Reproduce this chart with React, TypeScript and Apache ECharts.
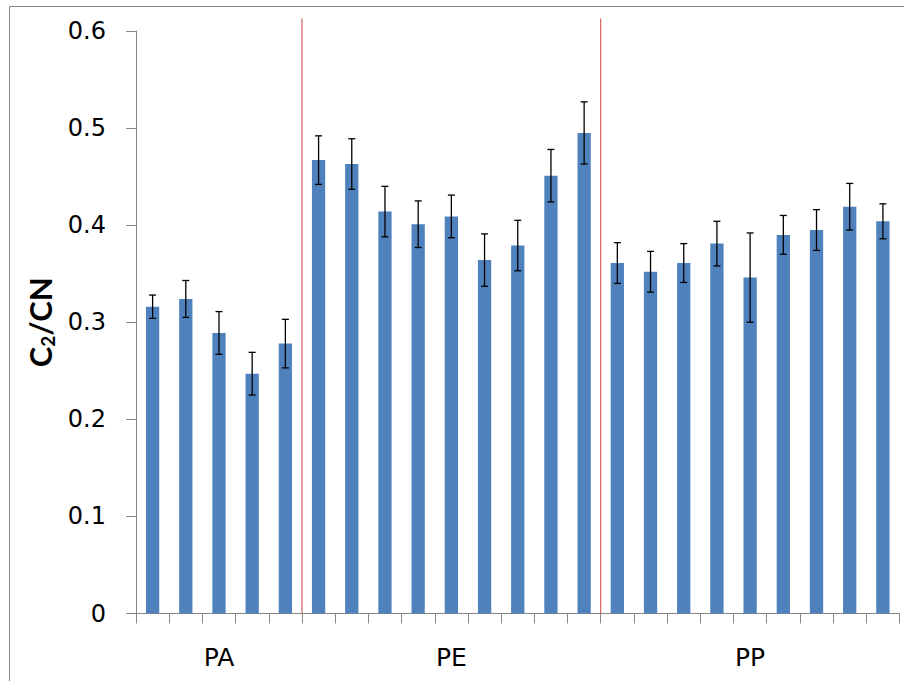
import React, { useEffect, useRef } from "react";
import * as echarts from "echarts";

const groups = ["PA", "PE", "PP"];
const groupCounts = [5, 9, 9];
const means = [
  0.316, 0.324, 0.289, 0.247, 0.278,
  0.467, 0.463, 0.414, 0.401, 0.409, 0.364, 0.379, 0.451, 0.495,
  0.361, 0.352, 0.361, 0.381, 0.346, 0.390, 0.395, 0.419, 0.404,
];
const errors = [
  0.012, 0.019, 0.022, 0.022, 0.025,
  0.025, 0.026, 0.026, 0.024, 0.022, 0.027, 0.026, 0.027, 0.032,
  0.021, 0.021, 0.020, 0.023, 0.046, 0.020, 0.021, 0.024, 0.018,
];
const yTicks = { min: 0, max: 0.6, interval: 0.1 };

const FONT = "DejaVu Sans";
const TITLE_FONT = "Lato";

export default function App() {
  const ref = useRef<HTMLDivElement>(null);
  useEffect(() => {
    document.body.style.margin = "0";
    if (!ref.current) return;
    const chart = echarts.init(ref.current, null, { renderer: "svg" });

    const categories: string[] = [];
    const centerLabel: Record<number, string> = {};
    const boundaries: number[][] = [];
    let start = 0;
    groups.forEach((g, gi) => {
      for (let k = 0; k < groupCounts[gi]; k++) categories.push(g + "-" + (k + 1));
      centerLabel[start + Math.floor(groupCounts[gi] / 2)] = g;
      start += groupCounts[gi];
      if (gi < groups.length - 1) boundaries.push([start]);
    });
    const total = start;
    const errData = means.map((m, i) => [i, m - errors[i], m + errors[i]]);

    chart.setOption({
      animation: false,
      graphic: [
        {
          type: "rect",
          left: 7,
          top: 4,
          shape: { width: 1000, height: 1000 },
          style: { fill: "none", stroke: "#868686", lineWidth: 1 },
          silent: true,
        },
      ],
      grid: { left: 136, right: 4.5, top: 31, bottom: 67.5 },
      xAxis: [
        {
          type: "category",
          data: categories,
          axisLine: { show: true, lineStyle: { color: "#868686", width: 1 } },
          axisTick: { show: true, interval: 0, length: 10, lineStyle: { color: "#868686" } },
          axisLabel: {
            interval: 0,
            margin: 31,
            fontFamily: FONT,
            fontSize: 25,
            color: "#000",
            formatter: (_v: string, idx: number) => centerLabel[idx] || "",
          },
          splitLine: { show: false },
        },
        {
          type: "value",
          min: 0,
          max: total,
          show: false,
        },
      ],
      yAxis: {
        type: "value",
        min: yTicks.min,
        max: yTicks.max,
        interval: yTicks.interval,
        axisLine: { show: true, lineStyle: { color: "#868686", width: 1 } },
        axisTick: { show: true, length: 10, lineStyle: { color: "#868686" } },
        splitLine: { show: false },
        axisLabel: {
          margin: 30,
          fontFamily: FONT,
          fontSize: 24,
          color: "#000",
          formatter: (v: number) => (v === 0 ? "0" : v.toFixed(1)),
        },
        name: "{a|C}{s|2}{a|/CN}",
        nameLocation: "middle",
        nameRotate: 90,
        nameGap: 74,
        nameTextStyle: {
          rich: {
            a: { fontFamily: TITLE_FONT, fontSize: 31, fontWeight: "bold", color: "#000", lineHeight: 34 },
            s: { fontFamily: TITLE_FONT, fontSize: 19, fontWeight: "bold", color: "#000", lineHeight: 16, verticalAlign: "bottom" },
          },
        },
      },
      series: [
        {
          type: "bar",
          data: means,
          barWidth: "40%",
          itemStyle: { color: "#4F81BD" },
          xAxisIndex: 0,
        },
        {
          type: "custom",
          xAxisIndex: 0,
          data: errData,
          z: 5,
          clip: false,
          renderItem: (_p: any, api: any) => {
            const x = api.value(0);
            const lo = api.coord([x, api.value(1)]);
            const hi = api.coord([x, api.value(2)]);
            const hw = 3.5;
            const st = { stroke: "#000", lineWidth: 1.3 };
            return {
              type: "group",
              children: [
                { type: "line", shape: { x1: lo[0], y1: lo[1], x2: hi[0], y2: hi[1] }, style: st },
                { type: "line", shape: { x1: lo[0] - hw, y1: lo[1], x2: lo[0] + hw, y2: lo[1] }, style: st },
                { type: "line", shape: { x1: hi[0] - hw, y1: hi[1], x2: hi[0] + hw, y2: hi[1] }, style: st },
              ],
            };
          },
        },
        {
          type: "custom",
          xAxisIndex: 1,
          data: boundaries,
          z: 1,
          clip: false,
          renderItem: (_p: any, api: any) => {
            const x = api.value(0);
            const b = api.coord([x, 0]);
            const t = api.coord([x, yTicks.max]);
            return {
              type: "line",
              shape: { x1: b[0], y1: b[1], x2: t[0], y2: t[1] - 12.5 },
              style: { stroke: "#D0423E", lineWidth: 1 },
            };
          },
        },
      ],
    });
    return () => chart.dispose();
  }, []);
  return <div ref={ref} style={{ width: 904, height: 681 }} />;
}
